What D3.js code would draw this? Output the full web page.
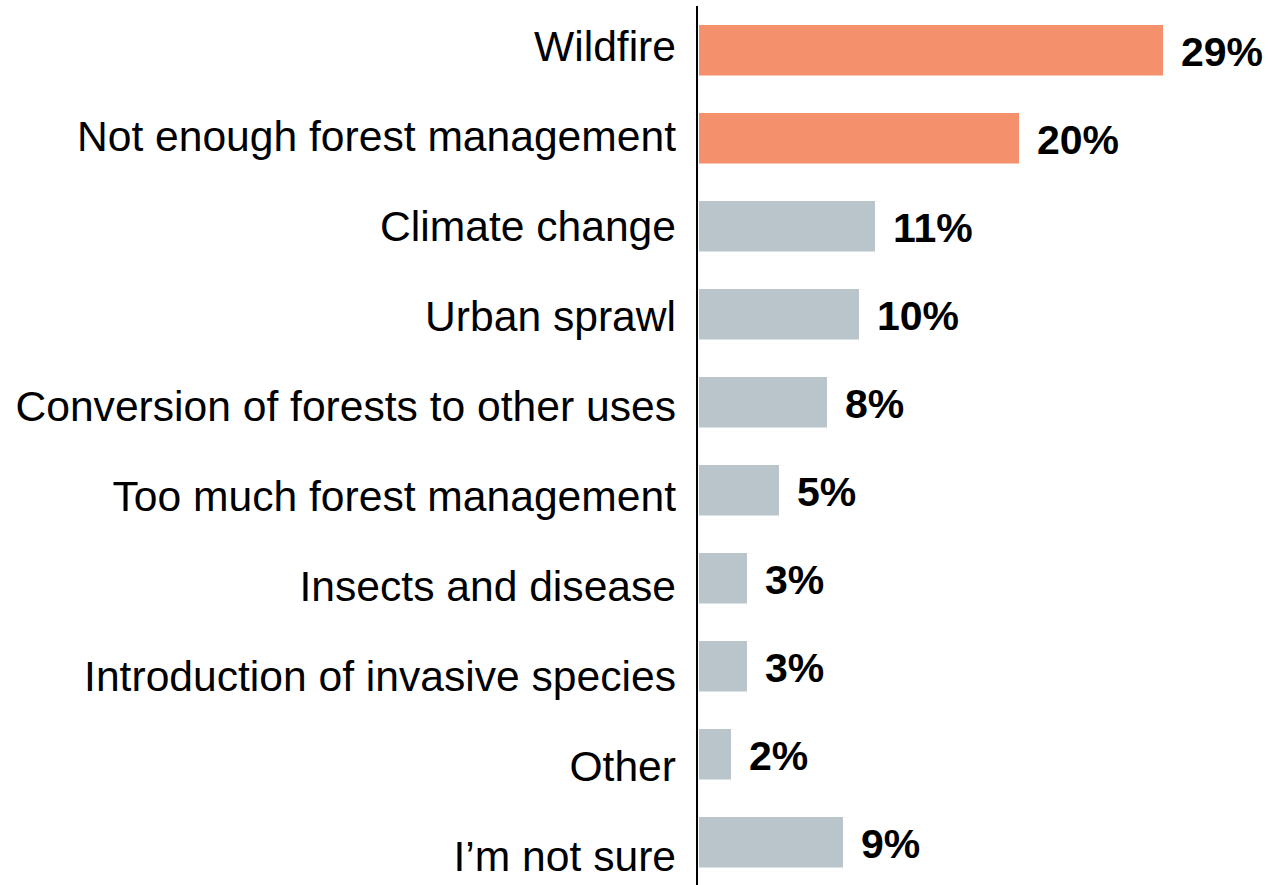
<!DOCTYPE html>
<html>
<head>
<meta charset="utf-8">
<script src="https://cdn.jsdelivr.net/npm/d3@7"></script>
<style>
  html, body { margin: 0; padding: 0; background: #fff; }
  svg { display: block; }
</style>
</head>
<body>
<svg id="chart" width="1268" height="885"></svg>
<script>
const categories = [
  "Wildfire",
  "Not enough forest management",
  "Climate change",
  "Urban sprawl",
  "Conversion of forests to other uses",
  "Too much forest management",
  "Insects and disease",
  "Introduction of invasive species",
  "Other",
  "I\u2019m not sure"
];
const values = [29, 20, 11, 10, 8, 5, 3, 3, 2, 9];
const highlighted = [true, true, false, false, false, false, false, false, false, false];

const svg = d3.select("#chart");
const axisX = 697;

const x = d3.scaleLinear().domain([0, 30]).range([699, 699 + 480]);
const y = d3.scaleBand().domain(categories).range([25, 867.5]).paddingInner(0.426).paddingOuter(0);
const yLabel = d3.scalePoint().domain(categories).range([46, 856]);

const data = categories.map((c, i) => ({ c, v: values[i], hi: highlighted[i] }));

svg.selectAll("rect.bar").data(data).join("rect")
  .attr("class", "bar")
  .attr("x", x(0))
  .attr("y", d => y(d.c))
  .attr("width", d => x(d.v) - x(0))
  .attr("height", y.bandwidth())
  .attr("fill", d => d.hi ? "#F5906D" : "#BAC5CB");

svg.selectAll("text.cat").data(data).join("text")
  .attr("class", "cat")
  .attr("x", 676)
  .attr("y", d => yLabel(d.c) + 15)
  .attr("text-anchor", "end")
  .attr("font-family", "'Liberation Sans', Arial, sans-serif")
  .attr("font-size", 42.6)
  .attr("fill", "#000")
  .text(d => d.c);

svg.selectAll("text.val").data(data).join("text")
  .attr("class", "val")
  .attr("x", d => x(d.v) + 18)
  .attr("y", d => y(d.c) + y.bandwidth() / 2 + 16)
  .attr("font-family", "'Liberation Sans', Arial, sans-serif")
  .attr("font-weight", "bold")
  .attr("font-size", 41)
  .attr("fill", "#000")
  .text(d => d.v + "%");

svg.append("line")
  .attr("x1", axisX).attr("x2", axisX)
  .attr("y1", 6).attr("y2", 885)
  .attr("stroke", "#000")
  .attr("stroke-width", 2);
</script>
</body>
</html>
